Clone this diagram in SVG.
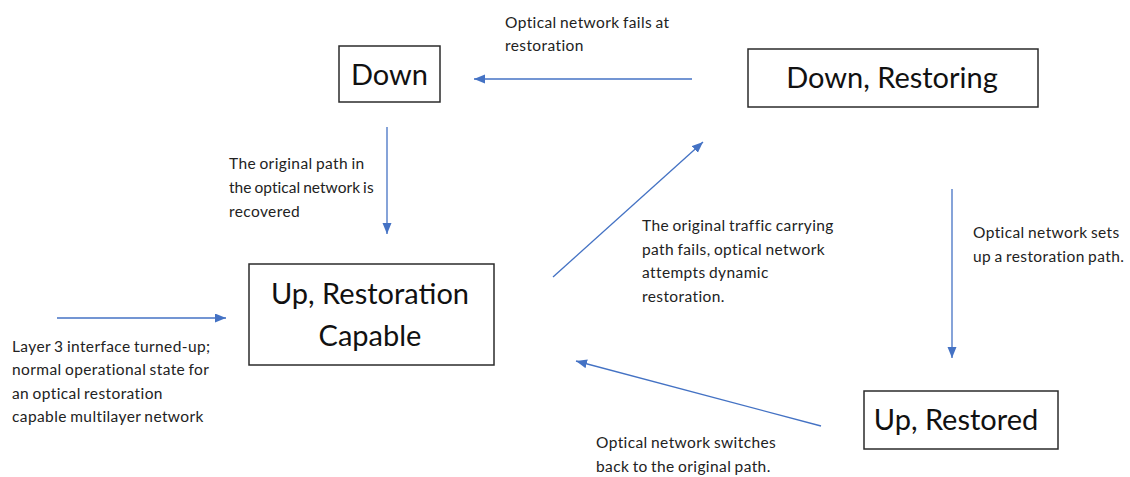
<svg xmlns="http://www.w3.org/2000/svg" width="1130" height="477" viewBox="0 0 1130 477">
<style>
.box{fill:#fff;stroke:#2b2b2b;stroke-width:1.5}
.nt{font-family:Lato,"Liberation Sans",sans-serif;font-size:29px;fill:#111;text-anchor:middle}
.lb{font-family:Lato,"Liberation Sans",sans-serif;font-size:15.5px;letter-spacing:0.4px;word-spacing:-1px;fill:#222}
.cn{stroke:#4472C4;stroke-width:1.3;fill:none;marker-end:url(#ah)}
</style>
<defs>
<marker id="ah" markerUnits="userSpaceOnUse" markerWidth="12" markerHeight="10" refX="11" refY="4.5" orient="auto">
<path d="M0,0 L11,4.5 L0,9 Z" fill="#4472C4"/>
</marker>
</defs>
<rect width="1130" height="477" fill="#fff"/>
<g id="connectors">
<line class="cn" x1="692" y1="79" x2="474" y2="79"/>
<line class="cn" x1="387" y1="127" x2="387" y2="234"/>
<line class="cn" x1="57" y1="318" x2="226" y2="318"/>
<line class="cn" x1="553" y1="277" x2="703" y2="142"/>
<line class="cn" x1="952" y1="189" x2="952" y2="358"/>
<line class="cn" x1="821" y1="426" x2="576" y2="361"/>
</g>
<g id="node-down">
<rect class="box" x="339" y="46" width="101" height="56"/>
<text class="nt" x="389.5" y="85">Down</text>
</g>
<g id="node-down-restoring">
<rect class="box" x="748" y="49" width="290" height="58"/>
<text class="nt" x="892" y="88">Down, Restoring</text>
</g>
<g id="node-up-restoration-capable">
<rect class="box" x="249" y="264" width="245" height="101"/>
<text class="nt" x="370" y="304">Up, Restoration</text>
<text class="nt" x="370" y="346">Capable</text>
</g>
<g id="node-up-restored">
<rect class="box" x="864" y="391" width="194" height="58"/>
<text class="nt" x="956" y="430">Up, Restored</text>
</g>
<g id="labels">
<text class="lb" x="505" y="28">Optical network fails at</text>
<text class="lb" x="505" y="51">restoration</text>
<text class="lb" x="229" y="169">The original path in</text>
<text class="lb" x="229" y="193" textLength="145">the optical network is</text>
<text class="lb" x="229" y="217">recovered</text>
<text class="lb" x="12" y="352">Layer 3 interface turned-up;</text>
<text class="lb" x="12" y="375">normal operational state for</text>
<text class="lb" x="12" y="399">an optical restoration</text>
<text class="lb" x="12" y="422">capable multilayer network</text>
<text class="lb" x="642" y="231">The original traffic carrying</text>
<text class="lb" x="642" y="255">path fails, optical network</text>
<text class="lb" x="642" y="278">attempts dynamic</text>
<text class="lb" x="642" y="302">restoration.</text>
<text class="lb" x="973" y="238">Optical network sets</text>
<text class="lb" x="973" y="262">up a restoration path.</text>
<text class="lb" x="596" y="448">Optical network switches</text>
<text class="lb" x="596" y="472">back to the original path.</text>
</g>
</svg>
